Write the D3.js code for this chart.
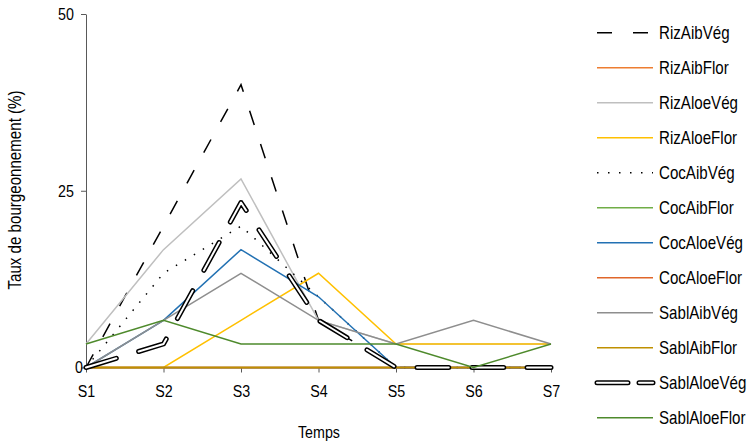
<!DOCTYPE html>
<html><head><meta charset="utf-8">
<script src="https://cdn.jsdelivr.net/npm/d3@7"></script>
<style>body{margin:0;background:#fff}svg{display:block}</style>
</head><body>
<svg id="chart" width="750" height="448"></svg>
<script>
// ---- data ----
const categories = ["S1","S2","S3","S4","S5","S6","S7"];
const seriesNames = ["RizAibVég","RizAibFlor","RizAloeVég","RizAloeFlor","CocAibVég","CocAibFlor","CocAloeVég","CocAloeFlor","SablAibVég","SablAibFlor","SablAloeVég","SablAloeFlor"];
const rizAibVeg    = [0, 20, 40, 6.67, 0, 0, 0];
const rizAibFlor   = [0, 0, 0, 0, 0, 0, 0];
const rizAloeVeg   = [3.33, 16.67, 26.67, 6.67, 3.33, 3.33, 3.33];
const rizAloeFlor  = [0, 0, 6.67, 13.33, 3.33, 3.33, 3.33];
const cocAibVeg    = [0, 13.33, 20, 10, 0, 0, 0];
const cocAibFlor   = [0, 0, 0, 0, 0, 0, 0];
const cocAloeVeg   = [0, 6.67, 16.67, 10, 0, 0, 0];
const cocAloeFlor  = [0, 0, 0, 0, 0, 0, 0];
const sablAibVeg   = [0, 6.67, 13.33, 6.67, 3.33, 6.67, 3.33];
const sablAibFlor  = [0, 0, 0, 0, 0, 0, 0];
const sablAloeVeg  = [0, 3.33, 23.33, 6.67, 0, 0, 0];
const sablAloeFlor = [3.33, 6.67, 3.33, 3.33, 3.33, 0, 3.33];
const yTicks = [0, 25, 50];
const yTitle = "Taux de bourgeonnement (%)";
const xTitle = "Temps";

const seriesValues = [rizAibVeg, rizAibFlor, rizAloeVeg, rizAloeFlor, cocAibVeg, cocAibFlor,
  cocAloeVeg, cocAloeFlor, sablAibVeg, sablAibFlor, sablAloeVeg, sablAloeFlor];

// ---- styles ----
const styles = [
  {color:"#000", dash:"15,20", legDash:"15,21"},
  {color:"#ED7D31"},
  {color:"#BFBFBF"},
  {color:"#FFC000"},
  {color:"#000", dash:"1.5,9", legDash:"1.5,9.5"},
  {color:"#70AD47"},
  {color:"#2271B3"},
  {color:"#E0662A"},
  {color:"#8E8E8E"},
  {color:"#BF9000"},
  {color:"#000", double:true, dash:"31.7,23.3", legDash:"31,11"},
  {color:"#4E8A2C"}
];

const FONT = "'Liberation Sans', Arial, sans-serif";
const K = 0.84; // horizontal condensation of the narrow source font

const svg = d3.select("#chart");
const x = d3.scalePoint().domain(categories).range([86, 551]);
const y = d3.scaleLinear().domain([0, 50]).range([367.5, 14]);

// axes
const gx = svg.append("g").attr("transform", "translate(0,367.5)")
  .call(d3.axisBottom(x).tickSize(5).tickSizeOuter(0).tickPadding(12.4));
gx.select(".domain").attr("stroke", "#595959");
gx.selectAll(".tick line").attr("stroke", "#595959");
gx.selectAll("text").attr("font-family", FONT).attr("font-size", 17).attr("fill", "#000")
  .each(function(){
    const ty = +this.getAttribute("y");
    d3.select(this).attr("y", 0).attr("transform", `translate(0,${ty}) scale(${K},1)`);
  });

const gy = svg.append("g").attr("transform", "translate(86,0)")
  .call(d3.axisLeft(y).tickValues(yTicks).tickSize(5).tickSizeOuter(0).tickPadding(7));
gy.select(".domain").attr("stroke", "#595959");
gy.selectAll(".tick line").attr("stroke", "#595959");
gy.selectAll(".tick").each(function(d){
  const t = d3.select(this).select("text");
  const tx = d === 0 ? -3 : +t.attr("x");
  t.attr("font-family", FONT).attr("font-size", 17).attr("fill", "#000")
    .attr("x", 0).attr("transform", `translate(${tx},0) scale(${K},1)`);
});

// titles
svg.append("text").attr("transform", `translate(319,438) scale(${K},1)`).attr("text-anchor", "middle")
  .attr("font-family", FONT).attr("font-size", 17).text(xTitle);
svg.append("text").attr("transform", `translate(20.5,190) rotate(-90) scale(${K},1)`).attr("text-anchor", "middle")
  .attr("font-family", FONT).attr("font-size", 18).text(yTitle);

// lines
const line = d3.line().x((d, i) => x(categories[i])).y(d => y(d));
const gl = svg.append("g");
seriesValues.forEach((vals, i) => {
  const s = styles[i];
  if (s.double) {
    gl.append("path").attr("d", line(vals)).attr("fill", "none").attr("stroke", "#000")
      .attr("stroke-width", 5).attr("stroke-dasharray", s.dash).attr("stroke-linecap", "round").attr("stroke-linejoin", "round");
    gl.append("path").attr("d", line(vals)).attr("fill", "none").attr("stroke", "#fff")
      .attr("stroke-width", 2).attr("stroke-dasharray", s.dash).attr("stroke-linecap", "round").attr("stroke-linejoin", "round");
  } else {
    gl.append("path").attr("d", line(vals)).attr("fill", "none").attr("stroke", s.color)
      .attr("stroke-width", 1.5).attr("stroke-dasharray", s.dash || null);
  }
});

// legend
const lg = svg.append("g");
seriesNames.forEach((name, i) => {
  const s = styles[i];
  const ry = 32.7 + 35 * i;
  if (s.double) {
    lg.append("line").attr("x1", 597).attr("x2", 653).attr("y1", ry).attr("y2", ry).attr("stroke", "#000")
      .attr("stroke-width", 5).attr("stroke-dasharray", s.legDash).attr("stroke-linecap", "round");
    lg.append("line").attr("x1", 597).attr("x2", 653).attr("y1", ry).attr("y2", ry).attr("stroke", "#fff")
      .attr("stroke-width", 2).attr("stroke-dasharray", s.legDash).attr("stroke-linecap", "round");
  } else {
    lg.append("line").attr("x1", 597).attr("x2", 653).attr("y1", ry).attr("y2", ry).attr("stroke", s.color)
      .attr("stroke-width", 1.5).attr("stroke-dasharray", s.legDash || null);
  }
  lg.append("text").attr("transform", `translate(659,${ry + 6.5}) scale(${K},1)`)
    .attr("font-family", FONT).attr("font-size", 18).attr("fill", "#000").text(name);
});
</script>
</body></html>
